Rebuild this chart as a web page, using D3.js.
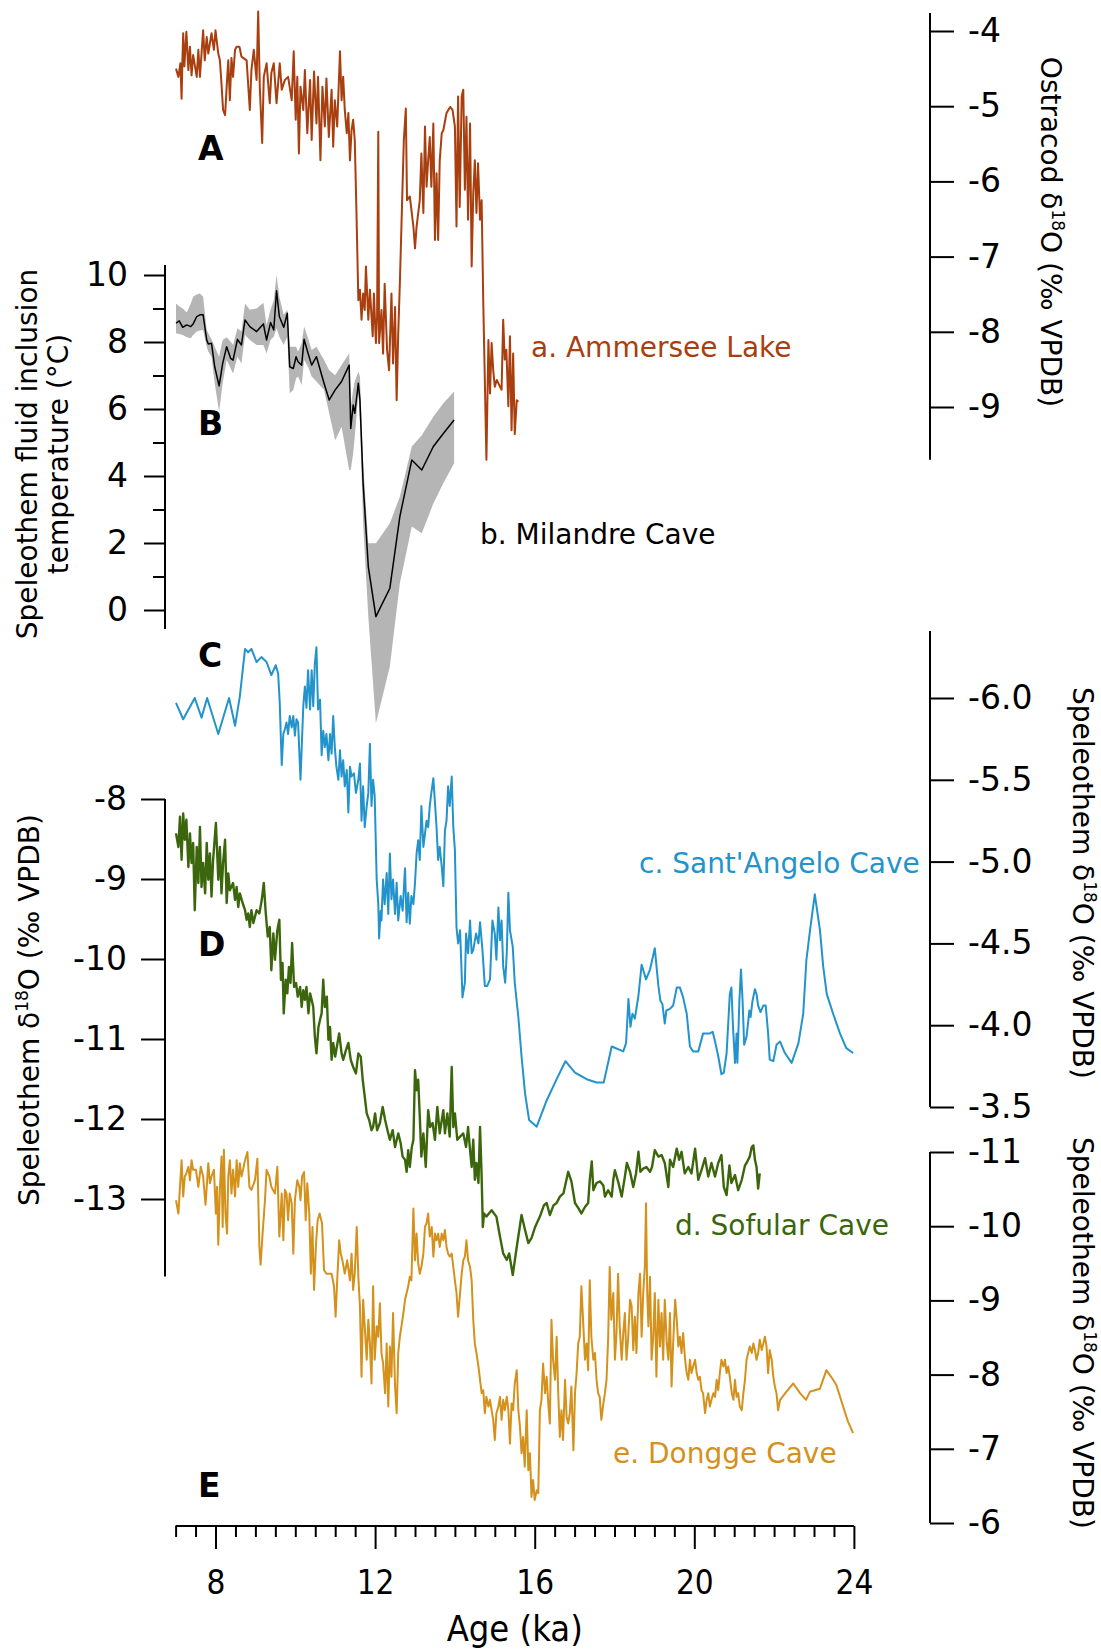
<!DOCTYPE html>
<html><head><meta charset="utf-8">
<script src="https://cdn.jsdelivr.net/npm/d3@7"></script>
<style>
html,body{margin:0;padding:0;background:#fff;}
svg{display:block;}
text{font-family:"DejaVu Sans",sans-serif;}
</style></head><body>
<svg id="chart" width="1101" height="1649"></svg>
<script>
// Age (ka) and proxy value pairs for each record
const ammersee = [[7.01,-4.50],[7.07,-4.61],[7.12,-4.43],[7.15,-4.90],[7.17,-4.41],[7.19,-4.03],[7.22,-4.47],[7.27,-4.01],[7.32,-4.52],[7.36,-4.21],[7.40,-4.59],[7.44,-4.32],[7.53,-4.61],[7.57,-4.25],[7.61,-4.61],[7.69,-3.99],[7.73,-4.39],[7.78,-4.08],[7.82,-4.30],[7.90,-4.03],[7.96,-4.25],[8.00,-3.99],[8.07,-4.30],[8.11,-4.39],[8.15,-4.70],[8.19,-5.05],[8.24,-5.12],[8.28,-4.74],[8.32,-4.39],[8.36,-4.92],[8.40,-4.36],[8.44,-4.61],[8.49,-4.25],[8.53,-4.21],[8.60,-4.21],[8.65,-4.34],[8.78,-4.39],[8.86,-5.05],[8.90,-4.52],[8.96,-4.25],[9.03,-4.65],[9.07,-3.74],[9.11,-4.74],[9.17,-5.49],[9.21,-4.61],[9.28,-4.43],[9.36,-4.96],[9.40,-4.56],[9.46,-4.43],[9.53,-4.96],[9.61,-4.43],[9.66,-4.78],[9.74,-4.65],[9.82,-4.61],[9.91,-4.92],[9.96,-4.27],[10.01,-5.18],[10.05,-4.61],[10.09,-5.63],[10.13,-4.74],[10.20,-5.05],[10.24,-4.52],[10.30,-5.36],[10.37,-4.65],[10.41,-5.45],[10.47,-4.54],[10.53,-5.23],[10.57,-4.61],[10.63,-5.72],[10.68,-4.74],[10.74,-5.27],[10.78,-4.63],[10.84,-5.41],[10.91,-4.78],[10.95,-5.54],[10.99,-4.92],[11.05,-5.27],[11.12,-4.27],[11.16,-4.92],[11.20,-4.61],[11.24,-5.05],[11.29,-5.36],[11.33,-5.09],[11.37,-5.72],[11.41,-5.32],[11.45,-5.18],[11.49,-5.45],[11.53,-6.34],[11.58,-7.58],[11.62,-7.44],[11.66,-7.84],[11.70,-7.49],[11.74,-7.71],[11.77,-7.13],[11.83,-7.84],[11.87,-7.44],[11.94,-8.06],[11.97,-7.49],[12.02,-8.15],[12.05,-7.80],[12.08,-5.34],[12.10,-8.15],[12.16,-7.71],[12.20,-8.29],[12.24,-7.36],[12.30,-8.24],[12.35,-8.51],[12.41,-7.49],[12.45,-8.42],[12.50,-7.67],[12.54,-8.91],[12.58,-8.02],[12.62,-7.36],[12.66,-6.60],[12.72,-5.45],[12.77,-5.03],[12.80,-6.25],[12.87,-6.20],[12.96,-6.60],[13.00,-6.89],[13.04,-6.60],[13.12,-6.25],[13.16,-5.63],[13.21,-6.42],[13.25,-5.27],[13.29,-6.07],[13.33,-5.72],[13.37,-5.41],[13.41,-6.07],[13.46,-5.23],[13.50,-6.78],[13.54,-5.89],[13.58,-6.78],[13.62,-5.72],[13.67,-5.36],[13.71,-5.32],[13.79,-5.09],[13.88,-5.01],[13.94,-5.05],[14.00,-5.27],[14.04,-6.60],[14.08,-4.87],[14.12,-6.34],[14.17,-4.87],[14.21,-4.78],[14.25,-6.11],[14.29,-5.14],[14.33,-6.51],[14.38,-5.23],[14.42,-7.13],[14.46,-6.16],[14.50,-5.72],[14.54,-6.42],[14.58,-5.76],[14.63,-6.51],[14.67,-6.25],[14.71,-7.58],[14.79,-9.70],[14.84,-8.11],[14.88,-8.82],[14.92,-8.15],[14.96,-8.51],[15.00,-8.73],[15.05,-8.64],[15.13,-8.73],[15.17,-8.77],[15.21,-7.84],[15.25,-8.37],[15.29,-8.24],[15.34,-8.99],[15.38,-8.06],[15.42,-9.31],[15.46,-8.29],[15.50,-9.36],[15.55,-8.91],[15.59,-8.93]];

// Milandre: age, temperature, lower bound, upper bound (°C)
const milandre = [[7.01,8.56,8.26,9.15],[7.09,8.63,8.24,9.07],[7.18,8.44,8.21,9.00],[7.28,8.51,8.14,8.88],[7.38,8.46,8.11,9.15],[7.44,8.54,8.21,9.35],[7.53,8.76,8.31,9.42],[7.61,8.81,8.34,9.45],[7.69,8.81,8.36,9.35],[7.78,8.06,7.86,8.36],[7.82,7.94,7.71,8.26],[7.90,7.96,7.56,8.08],[7.98,7.26,6.77,7.86],[8.09,6.69,5.92,7.56],[8.18,7.36,6.77,8.06],[8.28,7.86,7.46,8.14],[8.38,7.51,7.21,8.01],[8.44,7.46,7.06,7.91],[8.55,8.08,7.56,8.41],[8.65,7.91,7.36,8.31],[8.74,8.66,8.21,9.15],[8.86,8.46,8.06,8.96],[9.03,8.31,7.91,9.00],[9.20,8.54,7.91,9.17],[9.28,8.06,7.66,8.51],[9.38,8.58,8.06,8.96],[9.46,8.36,8.16,9.25],[9.53,9.53,8.41,10.0],[9.60,8.76,8.16,9.35],[9.71,8.44,7.91,8.81],[9.80,8.86,8.16,8.96],[9.86,7.26,6.47,7.86],[9.95,7.21,6.57,7.86],[10.02,7.56,6.92,7.86],[10.07,7.41,6.97,7.71],[10.16,7.31,6.72,7.96],[10.22,8.08,7.46,8.46],[10.32,7.66,7.26,8.11],[10.41,7.31,6.97,7.76],[10.53,7.56,6.82,7.86],[10.72,6.77,6.57,7.46],[10.85,6.27,5.87,7.16],[11.00,6.57,5.07,7.01],[11.16,6.82,5.47,7.31],[11.35,7.31,4.18,7.66],[11.39,5.42,4.18,6.07],[11.45,6.12,4.68,6.57],[11.49,5.87,5.17,6.82],[11.58,6.77,6.47,7.11],[11.62,6.27,5.57,6.97],[11.70,3.78,2.59,4.38],[11.83,1.29,-0.20,1.99],[12.02,-0.20,-3.38,1.99],[12.37,0.65,-1.69,2.59],[12.62,2.79,0.80,3.38],[12.92,4.48,2.49,4.88],[13.17,4.18,2.29,5.22],[13.46,4.88,3.18,5.77],[13.71,5.27,3.78,6.17],[13.98,5.67,4.38,6.52]];

const santAngelo = [[7.01,-5.97],[7.19,-5.87],[7.48,-6.00],[7.65,-5.88],[7.79,-6.00],[8.07,-5.78],[8.34,-6.00],[8.49,-5.83],[8.61,-6.01],[8.74,-6.30],[8.82,-6.28],[8.90,-6.30],[9.03,-6.22],[9.15,-6.25],[9.28,-6.22],[9.40,-6.14],[9.51,-6.20],[9.57,-6.15],[9.61,-5.97],[9.66,-5.59],[9.70,-5.78],[9.74,-5.81],[9.78,-5.85],[9.82,-5.78],[9.86,-5.89],[9.91,-5.82],[9.95,-5.89],[9.99,-5.77],[10.03,-5.87],[10.07,-5.85],[10.13,-5.50],[10.20,-5.95],[10.24,-6.07],[10.28,-5.94],[10.32,-6.17],[10.37,-5.93],[10.41,-6.17],[10.45,-5.95],[10.49,-6.21],[10.53,-6.31],[10.57,-5.93],[10.62,-5.99],[10.66,-5.65],[10.70,-5.80],[10.74,-5.70],[10.78,-5.78],[10.83,-5.62],[10.87,-5.78],[10.91,-5.66],[10.95,-5.89],[10.99,-5.70],[11.03,-5.58],[11.08,-5.50],[11.12,-5.68],[11.16,-5.52],[11.20,-5.62],[11.24,-5.46],[11.29,-5.56],[11.33,-5.30],[11.37,-5.58],[11.41,-5.52],[11.47,-5.54],[11.52,-5.42],[11.58,-5.50],[11.62,-5.60],[11.66,-5.25],[11.70,-5.46],[11.74,-5.21],[11.79,-5.34],[11.83,-5.42],[11.87,-5.72],[11.91,-5.34],[11.95,-5.50],[11.99,-5.40],[12.04,-4.89],[12.08,-4.74],[12.10,-4.53],[12.14,-4.70],[12.16,-4.64],[12.20,-4.89],[12.24,-4.74],[12.29,-4.93],[12.33,-4.68],[12.37,-5.05],[12.41,-4.77],[12.45,-4.89],[12.50,-4.68],[12.54,-4.87],[12.58,-4.64],[12.64,-4.79],[12.69,-4.70],[12.75,-4.96],[12.79,-4.63],[12.83,-4.81],[12.87,-4.62],[12.91,-4.79],[12.96,-4.74],[13.00,-4.87],[13.04,-5.05],[13.08,-5.13],[13.12,-5.01],[13.16,-5.34],[13.21,-5.09],[13.25,-5.17],[13.29,-5.25],[13.33,-5.21],[13.37,-5.34],[13.41,-5.42],[13.46,-5.51],[13.50,-5.36],[13.54,-5.21],[13.58,-5.01],[13.62,-5.09],[13.67,-4.97],[13.71,-4.85],[13.75,-5.19],[13.79,-5.25],[13.83,-5.46],[13.87,-5.34],[13.92,-5.52],[13.96,-5.21],[14.00,-5.07],[14.04,-4.60],[14.08,-4.50],[14.13,-4.58],[14.19,-4.17],[14.25,-4.26],[14.28,-4.56],[14.33,-4.44],[14.38,-4.64],[14.42,-4.44],[14.46,-4.46],[14.53,-4.56],[14.59,-4.50],[14.63,-4.63],[14.69,-4.46],[14.75,-4.24],[14.81,-4.24],[14.88,-4.28],[14.94,-4.64],[15.00,-4.56],[15.04,-4.40],[15.09,-4.72],[15.13,-4.52],[15.17,-4.64],[15.21,-4.36],[15.26,-4.26],[15.30,-4.44],[15.34,-4.81],[15.38,-4.58],[15.45,-4.48],[15.50,-4.26],[15.59,-4.05],[15.67,-3.81],[15.76,-3.58],[15.86,-3.42],[16.05,-3.38],[16.30,-3.54],[16.55,-3.67],[16.77,-3.78],[17.01,-3.71],[17.30,-3.67],[17.55,-3.65],[17.73,-3.65],[17.93,-3.87],[18.22,-3.84],[18.29,-3.89],[18.35,-4.16],[18.40,-3.99],[18.45,-4.07],[18.51,-4.04],[18.60,-4.18],[18.68,-4.37],[18.79,-4.28],[18.89,-4.34],[19.01,-4.47],[19.10,-4.24],[19.15,-4.15],[19.20,-4.13],[19.26,-4.01],[19.30,-4.09],[19.39,-4.10],[19.47,-4.12],[19.56,-4.23],[19.64,-4.23],[19.72,-4.17],[19.81,-4.07],[19.89,-3.87],[19.97,-3.84],[20.10,-3.84],[20.22,-3.95],[20.39,-3.95],[20.46,-3.96],[20.52,-3.90],[20.60,-3.81],[20.68,-3.70],[20.74,-3.71],[20.81,-3.83],[20.89,-4.19],[20.93,-4.23],[20.97,-3.99],[21.02,-3.77],[21.06,-3.95],[21.08,-3.77],[21.13,-4.15],[21.17,-4.34],[21.21,-4.15],[21.25,-3.88],[21.31,-3.93],[21.35,-4.02],[21.38,-4.09],[21.41,-4.05],[21.46,-4.15],[21.52,-4.22],[21.56,-4.19],[21.60,-4.12],[21.66,-4.08],[21.73,-4.12],[21.79,-4.12],[21.85,-3.95],[21.89,-3.79],[21.98,-3.78],[22.06,-3.88],[22.15,-3.90],[22.27,-3.83],[22.44,-3.77],[22.61,-3.89],[22.73,-4.07],[22.81,-4.40],[22.90,-4.58],[23.02,-4.80],[23.15,-4.58],[23.23,-4.36],[23.32,-4.19],[23.48,-4.07],[23.65,-3.95],[23.81,-3.86],[23.98,-3.83]];

const sofular = [[7.01,-8.43],[7.07,-8.60],[7.11,-8.22],[7.15,-8.76],[7.19,-8.18],[7.23,-8.51],[7.27,-8.26],[7.32,-8.85],[7.36,-8.43],[7.40,-8.80],[7.44,-8.55],[7.48,-9.39],[7.53,-8.60],[7.57,-9.05],[7.61,-8.35],[7.65,-9.10],[7.69,-8.80],[7.74,-9.18],[7.78,-8.55],[7.82,-9.01],[7.86,-8.68],[7.90,-9.22],[7.94,-8.76],[8.01,-8.30],[8.07,-9.01],[8.11,-8.60],[8.15,-9.18],[8.19,-8.80],[8.24,-8.51],[8.28,-9.30],[8.32,-8.93],[8.36,-9.14],[8.44,-9.05],[8.49,-9.26],[8.53,-9.10],[8.57,-9.35],[8.61,-9.18],[8.68,-9.30],[8.74,-9.39],[8.78,-9.51],[8.82,-9.43],[8.86,-9.60],[8.90,-9.39],[8.95,-9.55],[9.03,-9.39],[9.10,-9.43],[9.16,-9.26],[9.21,-9.05],[9.26,-9.43],[9.31,-9.72],[9.36,-9.60],[9.40,-10.14],[9.45,-9.68],[9.49,-10.01],[9.55,-9.64],[9.60,-9.51],[9.64,-10.26],[9.68,-10.05],[9.71,-10.68],[9.76,-10.26],[9.80,-10.43],[9.84,-10.10],[9.88,-10.30],[9.92,-9.80],[9.97,-10.35],[10.02,-10.30],[10.06,-10.47],[10.12,-10.35],[10.16,-10.60],[10.20,-10.39],[10.24,-10.51],[10.28,-10.35],[10.33,-10.68],[10.37,-10.43],[10.41,-10.51],[10.45,-10.60],[10.49,-10.97],[10.53,-11.18],[10.58,-10.85],[10.62,-10.76],[10.66,-10.68],[10.70,-10.26],[10.74,-10.60],[10.79,-10.47],[10.83,-11.01],[10.87,-10.85],[10.91,-11.26],[10.95,-11.05],[11.00,-11.22],[11.04,-11.10],[11.10,-10.93],[11.16,-11.18],[11.20,-11.26],[11.27,-11.14],[11.33,-11.05],[11.39,-11.26],[11.45,-11.35],[11.52,-11.43],[11.58,-11.18],[11.64,-11.22],[11.69,-11.51],[11.75,-11.76],[11.79,-11.93],[11.85,-12.01],[11.91,-12.14],[11.95,-12.10],[12.00,-11.93],[12.05,-12.14],[12.12,-12.05],[12.19,-11.85],[12.25,-12.01],[12.31,-12.14],[12.37,-12.26],[12.44,-12.14],[12.50,-12.35],[12.58,-12.18],[12.64,-12.30],[12.69,-12.47],[12.75,-12.51],[12.79,-12.66],[12.83,-12.39],[12.87,-12.60],[12.92,-12.35],[12.96,-12.26],[13.00,-11.39],[13.04,-11.64],[13.08,-11.51],[13.12,-11.97],[13.16,-12.47],[13.21,-12.18],[13.27,-12.60],[13.33,-11.89],[13.38,-12.10],[13.44,-12.05],[13.50,-12.26],[13.56,-11.85],[13.62,-12.18],[13.71,-11.89],[13.75,-12.18],[13.81,-11.93],[13.87,-12.22],[13.92,-11.35],[13.96,-12.10],[14.00,-11.93],[14.06,-12.26],[14.13,-12.22],[14.21,-12.18],[14.28,-12.35],[14.33,-12.10],[14.38,-12.39],[14.42,-12.60],[14.46,-12.26],[14.50,-12.76],[14.54,-12.55],[14.59,-12.80],[14.63,-12.10],[14.67,-12.72],[14.70,-13.35],[14.73,-13.18],[14.79,-13.22],[14.92,-13.14],[15.04,-13.22],[15.13,-13.47],[15.21,-13.68],[15.30,-13.76],[15.36,-13.68],[15.45,-13.95],[15.55,-13.60],[15.67,-13.20],[15.76,-13.39],[15.84,-13.55],[15.92,-13.49],[16.01,-13.35],[16.13,-13.22],[16.23,-13.08],[16.30,-13.05],[16.38,-13.20],[16.47,-13.08],[16.55,-13.05],[16.63,-12.97],[16.72,-12.93],[16.84,-12.66],[16.92,-12.78],[17.01,-13.05],[17.09,-13.11],[17.17,-13.18],[17.26,-13.10],[17.34,-13.05],[17.38,-12.76],[17.43,-12.53],[17.47,-12.89],[17.55,-12.80],[17.64,-12.78],[17.72,-12.83],[17.76,-12.97],[17.84,-12.89],[17.93,-12.97],[17.97,-12.76],[18.01,-12.64],[18.10,-12.80],[18.18,-12.97],[18.26,-12.72],[18.31,-12.55],[18.39,-12.66],[18.47,-12.85],[18.54,-12.68],[18.60,-12.41],[18.65,-12.66],[18.72,-12.62],[18.80,-12.60],[18.89,-12.66],[18.94,-12.60],[19.01,-12.39],[19.10,-12.47],[19.18,-12.45],[19.26,-12.55],[19.35,-12.85],[19.39,-12.51],[19.47,-12.60],[19.56,-12.37],[19.62,-12.51],[19.68,-12.41],[19.76,-12.68],[19.85,-12.60],[19.93,-12.68],[20.02,-12.37],[20.10,-12.76],[20.18,-12.64],[20.27,-12.49],[20.35,-12.72],[20.43,-12.55],[20.52,-12.72],[20.60,-12.55],[20.68,-12.45],[20.74,-12.85],[20.81,-12.95],[20.88,-12.58],[20.93,-12.80],[21.02,-12.70],[21.10,-12.89],[21.19,-12.76],[21.27,-12.58],[21.31,-12.55],[21.39,-12.47],[21.44,-12.35],[21.48,-12.33],[21.52,-12.51],[21.56,-12.60],[21.60,-12.87],[21.64,-12.68]];

const dongge = [[7.01,-10.35],[7.07,-10.17],[7.11,-10.53],[7.15,-10.89],[7.19,-10.40],[7.23,-10.67],[7.27,-10.71],[7.32,-10.80],[7.36,-10.62],[7.40,-10.89],[7.44,-10.76],[7.51,-10.76],[7.57,-10.53],[7.63,-10.80],[7.69,-10.67],[7.75,-10.29],[7.82,-10.85],[7.86,-10.58],[7.90,-10.67],[7.96,-10.76],[8.01,-10.17],[8.04,-10.53],[8.07,-9.75],[8.11,-10.49],[8.15,-10.94],[8.18,-9.99],[8.21,-11.03],[8.25,-10.17],[8.29,-9.90],[8.32,-10.67],[8.36,-10.89],[8.40,-10.44],[8.44,-10.76],[8.49,-10.40],[8.53,-10.89],[8.57,-10.53],[8.61,-10.85],[8.65,-10.67],[8.69,-10.76],[8.74,-10.89],[8.80,-11.00],[8.85,-10.53],[8.90,-10.49],[8.99,-10.62],[9.05,-10.91],[9.10,-9.72],[9.13,-9.48],[9.18,-9.90],[9.24,-10.35],[9.28,-10.76],[9.35,-10.67],[9.40,-10.53],[9.49,-10.44],[9.55,-10.80],[9.60,-9.86],[9.66,-10.44],[9.70,-9.81],[9.74,-10.49],[9.78,-10.44],[9.82,-10.08],[9.86,-10.44],[9.91,-10.31],[9.95,-9.63],[9.99,-10.35],[10.05,-10.62],[10.10,-10.53],[10.13,-10.35],[10.17,-10.67],[10.22,-10.73],[10.26,-10.08],[10.30,-10.58],[10.35,-10.17],[10.39,-9.36],[10.43,-9.99],[10.47,-9.14],[10.52,-9.77],[10.56,-10.08],[10.61,-10.17],[10.67,-10.04],[10.72,-9.41],[10.78,-9.36],[10.84,-9.36],[10.91,-9.36],[10.97,-9.19],[11.01,-8.78],[11.05,-9.27],[11.10,-9.81],[11.14,-9.63],[11.18,-9.54],[11.24,-9.36],[11.30,-9.54],[11.37,-9.27],[11.41,-9.63],[11.45,-9.14],[11.49,-9.36],[11.54,-9.99],[11.58,-9.32],[11.62,-8.92],[11.66,-7.97],[11.70,-9.01],[11.74,-8.65],[11.79,-8.20],[11.83,-8.74],[11.87,-8.42],[11.91,-7.88],[11.95,-9.19],[11.99,-8.20],[12.04,-8.65],[12.08,-8.51],[12.12,-8.96],[12.16,-8.29],[12.20,-8.15],[12.25,-7.75],[12.29,-8.42],[12.33,-7.57],[12.37,-8.38],[12.41,-7.97],[12.45,-8.83],[12.50,-7.84],[12.54,-7.48],[12.58,-8.29],[12.62,-8.51],[12.66,-8.65],[12.71,-8.83],[12.75,-9.01],[12.79,-9.10],[12.83,-9.19],[12.87,-9.32],[12.91,-9.27],[12.96,-10.24],[13.00,-9.54],[13.04,-9.90],[13.08,-9.50],[13.12,-9.36],[13.16,-9.45],[13.21,-9.63],[13.25,-9.99],[13.29,-10.04],[13.33,-10.17],[13.37,-9.86],[13.42,-9.99],[13.46,-9.59],[13.50,-9.90],[13.54,-9.81],[13.58,-9.90],[13.62,-9.72],[13.67,-9.90],[13.71,-9.81],[13.75,-9.95],[13.79,-9.72],[13.83,-9.63],[13.87,-9.59],[13.92,-9.63],[13.96,-9.45],[14.00,-9.27],[14.04,-9.10],[14.08,-8.78],[14.13,-9.10],[14.17,-9.36],[14.21,-9.54],[14.25,-9.59],[14.29,-9.81],[14.33,-9.54],[14.38,-9.45],[14.42,-9.27],[14.46,-8.74],[14.50,-8.42],[14.54,-8.29],[14.59,-8.11],[14.63,-7.93],[14.67,-7.75],[14.71,-7.79],[14.75,-7.48],[14.79,-7.70],[14.84,-7.57],[14.88,-7.66],[14.92,-7.52],[14.96,-7.39],[15.00,-7.12],[15.04,-7.48],[15.09,-7.57],[15.13,-7.70],[15.17,-7.39],[15.21,-7.66],[15.25,-7.52],[15.30,-7.70],[15.34,-7.52],[15.38,-7.07],[15.42,-7.61],[15.46,-7.52],[15.50,-7.88],[15.55,-8.06],[15.59,-7.52],[15.63,-7.30],[15.67,-6.94],[15.71,-7.16],[15.75,-6.76],[15.80,-7.52],[15.84,-6.71],[15.88,-6.94],[15.92,-6.35],[15.96,-6.58],[16.00,-6.31],[16.05,-6.44],[16.09,-6.40],[16.13,-7.52],[16.17,-7.66],[16.21,-8.15],[16.26,-7.75],[16.30,-7.97],[16.34,-7.61],[16.38,-7.34],[16.42,-8.74],[16.46,-8.20],[16.51,-7.93],[16.55,-8.51],[16.59,-7.75],[16.63,-7.16],[16.67,-7.52],[16.71,-7.12],[16.76,-7.93],[16.80,-7.43],[16.84,-7.34],[16.88,-7.48],[16.92,-7.84],[16.97,-6.98],[17.01,-7.75],[17.05,-8.02],[17.09,-8.42],[17.13,-8.51],[17.17,-9.19],[17.22,-8.65],[17.26,-8.20],[17.30,-8.42],[17.34,-8.06],[17.38,-9.27],[17.42,-8.51],[17.47,-8.20],[17.51,-8.29],[17.55,-7.93],[17.59,-7.75],[17.63,-7.70],[17.67,-7.39],[17.72,-7.61],[17.76,-7.75],[17.80,-7.93],[17.84,-8.47],[17.88,-9.45],[17.92,-8.74],[17.97,-9.10],[18.01,-8.20],[18.05,-8.56],[18.09,-9.36],[18.13,-8.65],[18.18,-8.20],[18.22,-8.56],[18.26,-8.83],[18.30,-8.20],[18.34,-8.47],[18.39,-9.01],[18.43,-8.92],[18.47,-8.33],[18.51,-8.78],[18.55,-8.29],[18.60,-9.10],[18.64,-9.36],[18.68,-8.51],[18.72,-9.10],[18.76,-9.45],[18.79,-10.31],[18.82,-9.10],[18.85,-8.65],[18.89,-9.32],[18.93,-8.20],[18.97,-8.51],[19.01,-9.10],[19.05,-7.97],[19.10,-9.01],[19.14,-8.38],[19.18,-8.83],[19.22,-8.20],[19.26,-9.01],[19.31,-8.42],[19.35,-8.20],[19.39,-8.83],[19.43,-7.84],[19.47,-8.42],[19.52,-9.01],[19.56,-8.74],[19.60,-8.38],[19.64,-8.51],[19.68,-8.29],[19.72,-8.56],[19.77,-8.20],[19.81,-8.02],[19.85,-7.93],[19.89,-8.20],[19.93,-8.02],[19.97,-8.11],[20.02,-8.20],[20.06,-8.02],[20.10,-7.93],[20.14,-7.97],[20.18,-7.79],[20.22,-7.75],[20.27,-7.48],[20.31,-7.66],[20.35,-7.75],[20.39,-7.57],[20.43,-7.66],[20.48,-7.75],[20.52,-7.70],[20.56,-7.93],[20.60,-7.79],[20.64,-8.02],[20.68,-8.20],[20.73,-8.11],[20.77,-8.20],[20.81,-8.02],[20.85,-8.11],[20.89,-7.97],[20.94,-7.75],[20.98,-7.66],[21.02,-7.93],[21.06,-7.70],[21.10,-7.75],[21.14,-7.57],[21.19,-7.52],[21.23,-7.75],[21.27,-7.93],[21.31,-8.20],[21.35,-8.29],[21.39,-8.38],[21.44,-8.29],[21.48,-8.42],[21.52,-8.33],[21.56,-8.20],[21.60,-8.29],[21.64,-8.47],[21.69,-8.33],[21.73,-8.42],[21.77,-8.51],[21.81,-8.38],[21.85,-8.02],[21.89,-8.33],[21.94,-8.20],[21.98,-7.97],[22.02,-7.84],[22.06,-7.75],[22.10,-7.52],[22.15,-7.66],[22.31,-7.77],[22.48,-7.88],[22.65,-7.75],[22.80,-7.66],[22.90,-7.77],[23.02,-7.79],[23.15,-7.81],[23.31,-8.06],[23.48,-7.93],[23.56,-7.86],[23.73,-7.57],[23.85,-7.37],[23.98,-7.21]];

// Tick values
const ageTicks = [8, 12, 16, 20, 24];
const ammerseeTicks = [-4, -5, -6, -7, -8, -9];
const milandreTicks = [0, 2, 4, 6, 8, 10];
const milandreMinor = [1, 3, 5, 7, 9];
const santAngeloTicks = [-6.0, -5.5, -5.0, -4.5, -4.0, -3.5];
const sofularTicks = [-8, -9, -10, -11, -12, -13];
const donggeTicks = [-11, -10, -9, -8, -7, -6];

const colors = {a: "#a93e0e", b: "#000000", band: "#b5b5b5", c: "#2393cc", d: "#3b660b", e: "#d4911b"};

const svg = d3.select("#chart");

// Shared age scale and one vertical scale per stacked record
const x = d3.scaleLinear().domain([7, 24]).range([175.6, 853.9]);
const yA = d3.scaleLinear().domain([-4, -9]).range([31, 407]);
const yB = d3.scaleLinear().domain([0, 10]).range([610, 275]);
const yC = d3.scaleLinear().domain([-6, -3.5]).range([698, 1107]);
const yD = d3.scaleLinear().domain([-8, -13]).range([799, 1199]);
const yE = d3.scaleLinear().domain([-11, -6]).range([1152, 1523]);

function vAxis(scale, side, xPos, ticks, fmt, extent, size, pad) {
  const ax = (side === "left" ? d3.axisLeft(scale) : d3.axisRight(scale))
    .tickValues(ticks).tickSize(size).tickPadding(pad).tickFormat(fmt);
  const g = svg.append("g").attr("transform", `translate(${xPos},0)`).call(ax);
  g.select(".domain").remove();
  g.selectAll("line").attr("stroke", "#000").attr("stroke-width", 2);
  g.selectAll("text").attr("font-size", 33).attr("font-family", "DejaVu Sans").attr("fill", "#000");
  svg.append("line").attr("x1", xPos).attr("x2", xPos)
    .attr("y1", scale(extent[0])).attr("y2", scale(extent[1]))
    .attr("stroke", "#000").attr("stroke-width", 2);
  return g;
}

const intFmt = d => String(d);
vAxis(yA, "right", 930, ammerseeTicks, intFmt, [-3.76, -9.7], 24, 14);
vAxis(yB, "left", 165, milandreTicks, intFmt, [10.3, -0.57], 21, 16);
vAxis(yB, "left", 165, milandreMinor, () => "", [10.3, -0.57], 12, 0);
vAxis(yC, "right", 930, santAngeloTicks, d => d.toFixed(1), [-6.41, -3.5], 24, 14);
vAxis(yD, "left", 165, sofularTicks, intFmt, [-8, -13.97], 24, 14);
vAxis(yE, "right", 930, donggeTicks, intFmt, [-11, -6], 24, 14);

// Age axis: labelled majors plus half-ka minor ticks
const axisY = 1526;
const minorAges = d3.range(7, 24.001, 0.5).filter(v => !ageTicks.includes(v));
const gMin = svg.append("g").attr("transform", `translate(0,${axisY})`)
  .call(d3.axisBottom(x).tickValues(minorAges).tickSize(11).tickFormat(() => ""));
gMin.select(".domain").remove();
gMin.selectAll("line").attr("stroke", "#000").attr("stroke-width", 2);
const gMaj = svg.append("g").attr("transform", `translate(0,${axisY})`)
  .call(d3.axisBottom(x).tickValues(ageTicks).tickSize(23).tickPadding(22).tickFormat(intFmt));
gMaj.select(".domain").remove();
gMaj.selectAll("line").attr("stroke", "#000").attr("stroke-width", 2);
gMaj.selectAll("text").attr("font-size", 33).attr("fill", "#000")
  .attr("font-family", "'DejaVu Sans Condensed','DejaVu Sans'").attr("font-stretch", "condensed");
svg.append("line").attr("x1", x(7)).attr("x2", x(24)).attr("y1", axisY).attr("y2", axisY)
  .attr("stroke", "#000").attr("stroke-width", 2);
svg.append("text").attr("x", (x(7) + x(24)) / 2).attr("y", 1641).attr("text-anchor", "middle")
  .attr("font-size", 36).attr("font-family", "'DejaVu Sans Condensed','DejaVu Sans'")
  .attr("font-stretch", "condensed").text("Age (ka)");

// Milandre uncertainty band and mean
svg.append("path").datum(milandre).attr("fill", colors.band).attr("stroke", "none")
  .attr("d", d3.area().x(d => x(d[0])).y0(d => yB(d[2])).y1(d => yB(d[3])));

function drawLine(data, y, color, width) {
  svg.append("path").datum(data).attr("fill", "none").attr("stroke", color)
    .attr("stroke-width", width).attr("stroke-linejoin", "round")
    .attr("d", d3.line().x(d => x(d[0])).y(d => y(d[1])));
}
drawLine(milandre, yB, colors.b, 1.5);
drawLine(ammersee, yA, colors.a, 2);
drawLine(santAngelo, yC, colors.c, 2);
drawLine(sofular, yD, colors.d, 2.4);
drawLine(dongge, yE, colors.e, 2);

// Rotated axis titles
function isotopeTitle(xb, yc, angle, prefix) {
  const t = svg.append("text").attr("transform", `translate(${xb},${yc}) rotate(${angle})`)
    .attr("text-anchor", "middle").attr("font-size", 28).attr("fill", "#000");
  t.append("tspan").text(prefix + " δ");
  t.append("tspan").attr("font-size", 17).attr("dy", -11).text("18");
  t.append("tspan").attr("dy", 11).text("O (‰ VPDB)");
}
isotopeTitle(1041, 232, 90, "Ostracod");
isotopeTitle(1073, 883, 90, "Speleothem");
isotopeTitle(1073, 1333, 90, "Speleothem");
isotopeTitle(39, 1010, -90, "Speleothem");
svg.append("text").attr("transform", "translate(37,454) rotate(-90)").attr("text-anchor", "middle")
  .attr("font-size", 28).text("Speleothem fluid inclusion");
svg.append("text").attr("transform", "translate(68,454) rotate(-90)").attr("text-anchor", "middle")
  .attr("font-size", 28).text("temperature (°C)");

// Panel letters
const panels = [["A", 160], ["B", 435], ["C", 667], ["D", 956], ["E", 1497]];
svg.selectAll("text.panel").data(panels).enter().append("text").attr("class", "panel")
  .attr("x", 198).attr("y", d => d[1]).attr("font-size", 33).attr("font-weight", "bold").text(d => d[0]);

// Record names
const names = [
  ["a. Ammersee Lake", 531, 357, colors.a],
  ["b. Milandre Cave", 480, 544, colors.b],
  ["c. Sant'Angelo Cave", 639, 873, colors.c],
  ["d. Sofular Cave", 675, 1235, colors.d],
  ["e. Dongge Cave", 613, 1463, colors.e]
];
svg.selectAll("text.name").data(names).enter().append("text").attr("class", "name")
  .attr("x", d => d[1]).attr("y", d => d[2]).attr("font-size", 28).attr("fill", d => d[3]).text(d => d[0]);
</script>
</body></html>
